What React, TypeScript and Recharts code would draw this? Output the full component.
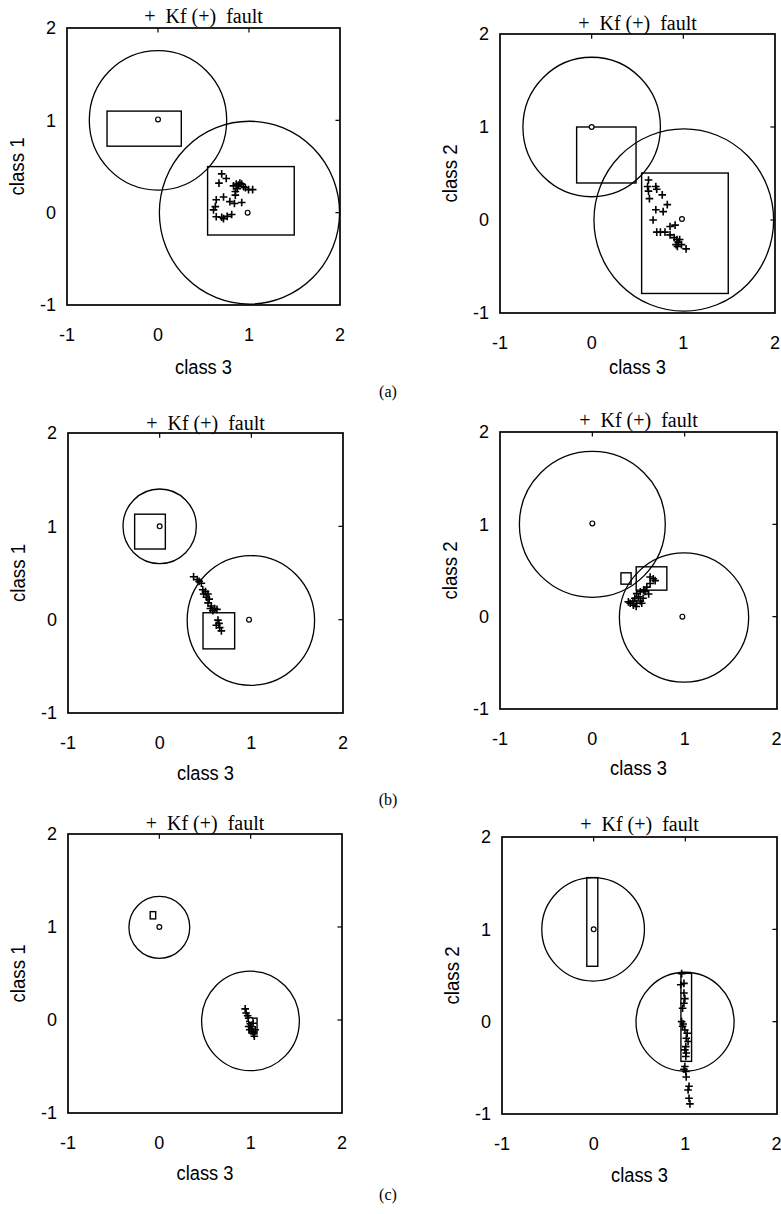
import React from 'react';
import { ScatterChart, Scatter, XAxis, YAxis, ReferenceArea, ReferenceLine, Label } from 'recharts';

type Pt = { x: number; y: number };
type Circ = { cx: number; cy: number; r: number };
type Box = { x1: number; x2: number; y1: number; y2: number };

const axisTicks = [-1, 0, 1, 2];
const innerTicks = [0, 1];
const axisDomain: [number, number] = [-1, 2];
const tickLen = 0.05;
const titleText = '+  Kf (+)  fault';
const xLabelText = 'class 3';
const figLabels = ['(a)', '(b)', '(c)'];

const P = (arr: number[][]): Pt[] => arr.map(([x, y]) => ({ x, y }));

// ---------- (a) left: class 1 vs class 3 ----------
const aLeftCircles: Circ[] = [
  { cx: 0, cy: 1, r: 0.755 },
  { cx: 1.005, cy: 0, r: 0.99 },
];
const aLeftRects: Box[] = [
  { x1: -0.56, x2: 0.256, y1: 0.72, y2: 1.1 },
  { x1: 0.545, x2: 1.497, y1: -0.242, y2: 0.499 },
];
const aLeftCenters: Pt[] = P([[0, 1.01], [0.985, 0]]);
const aLeftPlus: Pt[] = P([
  [0.70, 0.42], [0.75, 0.37], [0.67, 0.32], [0.83, 0.29], [0.86, 0.31], [0.885, 0.30],
  [0.90, 0.32], [0.92, 0.31], [0.94, 0.28], [0.96, 0.27], [0.995, 0.25], [1.04, 0.25],
  [0.85, 0.23], [0.85, 0.19], [0.72, 0.17], [0.64, 0.14], [0.79, 0.12], [0.84, 0.10],
  [0.92, 0.11], [0.63, 0.065], [0.61, 0.03], [0.64, -0.045], [0.70, -0.05], [0.72, -0.065],
  [0.76, -0.04], [0.81, -0.02], [0.87, 0.26],
]);

// ---------- (a) right: class 2 vs class 3 ----------
const aRightCircles: Circ[] = [
  { cx: 0, cy: 1, r: 0.75 },
  { cx: 1.005, cy: 0, r: 0.98 },
];
const aRightRects: Box[] = [
  { x1: -0.164, x2: 0.484, y1: 0.398, y2: 1.0 },
  { x1: 0.545, x2: 1.49, y1: -0.79, y2: 0.505 },
];
const aRightCenters: Pt[] = P([[0, 1], [0.985, 0.01]]);
const aRightPlus: Pt[] = P([
  [0.62, 0.43], [0.61, 0.36], [0.62, 0.31], [0.63, 0.23], [0.70, 0.36], [0.71, 0.33],
  [0.77, 0.27], [0.70, 0.11], [0.78, 0.09], [0.825, 0.165], [0.67, 0.0], [0.71, -0.13],
  [0.75, -0.13], [0.80, -0.13], [0.855, -0.07], [0.91, -0.055], [0.855, -0.16], [0.90, -0.19],
  [0.93, -0.21], [0.945, -0.24], [0.96, -0.21], [0.92, -0.265], [0.98, -0.265], [1.03, -0.31],
  [0.935, -0.285],
]);

// ---------- (b) left ----------
const bLeftCircles: Circ[] = [
  { cx: 0, cy: 1, r: 0.4 },
  { cx: 0.995, cy: -0.008, r: 0.695 },
];
const bLeftRects: Box[] = [
  { x1: -0.273, x2: 0.062, y1: 0.757, y2: 1.13 },
  { x1: 0.473, x2: 0.818, y1: -0.313, y2: 0.074 },
];
const bLeftCenters: Pt[] = P([[0, 1], [0.975, 0]]);
const bLeftPlus: Pt[] = P([
  [0.37, 0.46], [0.41, 0.43], [0.43, 0.41], [0.455, 0.39], [0.47, 0.32], [0.50, 0.30],
  [0.48, 0.275], [0.527, 0.275], [0.51, 0.24], [0.54, 0.22], [0.527, 0.18], [0.564, 0.146],
  [0.553, 0.12], [0.60, 0.12], [0.625, 0.11], [0.58, 0.095], [0.636, -0.005], [0.618, -0.06],
  [0.655, -0.085], [0.673, -0.12], [0.647, -0.04],
]);

// ---------- (b) right ----------
const bRightCircles: Circ[] = [
  { cx: 0, cy: 1, r: 0.79 },
  { cx: 0.993, cy: -0.01, r: 0.7 },
];
const bRightRects: Box[] = [
  { x1: 0.31, x2: 0.42, y1: 0.352, y2: 0.475 },
  { x1: 0.475, x2: 0.807, y1: 0.287, y2: 0.54 },
];
const bRightCenters: Pt[] = P([[0, 1.01], [0.975, 0]]);
const bRightPlus: Pt[] = P([
  [0.626, 0.43], [0.66, 0.41], [0.68, 0.39], [0.626, 0.36], [0.59, 0.32], [0.555, 0.287],
  [0.52, 0.27], [0.48, 0.25], [0.57, 0.27], [0.61, 0.245], [0.50, 0.215], [0.46, 0.20],
  [0.44, 0.17], [0.39, 0.16], [0.41, 0.145], [0.48, 0.145], [0.52, 0.17], [0.535, 0.145],
  [0.475, 0.11], [0.445, 0.125], [0.55, 0.20],
]);

// ---------- (c) left ----------
const cLeftCircles: Circ[] = [
  { cx: 0, cy: 0.996, r: 0.333 },
  { cx: 0.998, cy: -0.01, r: 0.535 },
];
const cLeftRects: Box[] = [
  { x1: -0.1, x2: -0.04, y1: 1.087, y2: 1.165 },
  { x1: 0.98, x2: 1.07, y1: -0.14, y2: 0.02 },
];
const cLeftCenters: Pt[] = P([[0, 1], [1, 0]]);
const cLeftPlus: Pt[] = P([
  [0.94, 0.12], [0.95, 0.075], [0.967, 0.045], [0.978, 0.02], [0.99, -0.015], [0.996, -0.04],
  [1.004, -0.07], [1.015, -0.1], [1.026, -0.125], [1.033, -0.15], [1.04, -0.175], [0.99, -0.105],
  [0.978, -0.07], [1.026, -0.035], [1.05, -0.105],
]);

// ---------- (c) right ----------
const cRightCircles: Circ[] = [
  { cx: -0.006, cy: 1, r: 0.56 },
  { cx: 0.997, cy: 0, r: 0.535 },
];
const cRightRects: Box[] = [
  { x1: -0.075, x2: 0.045, y1: 0.6, y2: 1.56 },
  { x1: 0.952, x2: 1.068, y1: -0.43, y2: 0.524 },
];
const cRightCenters: Pt[] = P([[0, 1]]);
const cRightPlus: Pt[] = P([
  [0.96, 0.52], [0.95, 0.40], [0.985, 0.415], [0.985, 0.31], [0.995, 0.25], [0.985, 0.20],
  [0.97, 0.145], [0.96, 0.0], [0.977, -0.025], [0.97, -0.05], [0.995, -0.09], [1.02, -0.125],
  [1.01, -0.18], [1.03, -0.215], [1.005, -0.27], [0.995, -0.305], [1.01, -0.34], [1.005, -0.377],
  [0.995, -0.485], [0.985, -0.515], [1.005, -0.54], [1.01, -0.60], [1.04, -0.70], [1.03, -0.74],
  [1.04, -0.83], [1.05, -0.89],
]);

const tickFont = 'Liberation Sans, Arial, sans-serif';
const labelFont = '"Liberation Sans Narrow", "Liberation Sans", Arial, sans-serif';
const serifFont = '"Liberation Serif", "Times New Roman", serif';

const PlusMark = (props: any) => {
  const { cx, cy } = props;
  if (cx == null || cy == null) return null;
  const s = 3.8;
  return (
    <path
      d={`M${cx - s},${cy}H${cx + s}M${cx},${cy - s}V${cy + s}`}
      stroke="#000"
      strokeWidth={1.6}
      fill="none"
    />
  );
};

const CenterMark = (props: any) => {
  const { cx, cy } = props;
  if (cx == null || cy == null) return null;
  return <circle cx={cx} cy={cy} r={2.4} stroke="#000" strokeWidth={1.2} fill="#fff" />;
};

const EllipseShape = (props: any) => {
  const { x, y, width, height } = props;
  if (x == null || y == null) return null;
  return (
    <ellipse
      cx={x + width / 2}
      cy={y + height / 2}
      rx={Math.abs(width) / 2}
      ry={Math.abs(height) / 2}
      fill="none"
      stroke="#000"
      strokeWidth={1.3}
    />
  );
};

const RectShape = (props: any) => {
  const { x, y, width, height } = props;
  if (x == null || y == null) return null;
  return <rect x={x} y={y} width={width} height={height} fill="none" stroke="#000" strokeWidth={1.4} />;
};

const FrameShape = (props: any) => {
  const { x, y, width, height } = props;
  if (x == null || y == null) return null;
  return <rect x={x} y={y} width={width} height={height} fill="none" stroke="#000" strokeWidth={1.7} />;
};

type PanelProps = {
  L: number; T: number; R: number; B: number;
  ylabel: string;
  xlabOff: number;
  titleOff: number;
  circles: Circ[];
  rects: Box[];
  centers: Pt[];
  pluses: Pt[];
};

function Panel({ L, T, R, B, ylabel, xlabOff, titleOff, circles, rects, centers, pluses }: PanelProps) {
  const padL = 70;
  const padT = 30;
  const padB = 80;
  const padR = Math.min(20, 781 - R);
  const w = R - L + padL + padR;
  const h = B - T + padT + padB;
  const lo = axisDomain[0];
  const hi = axisDomain[1];
  return (
    <div style={{ position: 'absolute', left: L - padL, top: T - padT, width: w, height: h }}>
      <div
        style={{
          position: 'absolute',
          left: padL - 20,
          width: R - L + 40,
          top: padT - titleOff - 12,
          height: 24,
          lineHeight: '24px',
          textAlign: 'center',
          fontFamily: serifFont,
          fontSize: 20,
          whiteSpace: 'pre',
          color: '#000',
          zIndex: 2,
        }}
      >
        {titleText}
      </div>
      <ScatterChart width={w} height={h} margin={{ top: padT, right: padR, bottom: 0, left: 0 }}>
        <XAxis
          dataKey="x"
          type="number"
          domain={axisDomain}
          ticks={axisTicks}
          allowDataOverflow
          height={padB}
          stroke="#000"
          axisLine={false}
          tickLine={false}
          tickMargin={17}
          tick={{ fill: '#000', fontSize: 18, fontFamily: tickFont }}
        >
          <Label
            content={(p: any) => {
              const vb = p.viewBox || {};
              return (
                <text
                  x={vb.x + vb.width / 2}
                  y={vb.y + xlabOff}
                  textAnchor="middle"
                  dominantBaseline="central"
                  fontSize={20}
                  fontFamily={labelFont}
                  textLength={57}
                  lengthAdjust="spacingAndGlyphs"
                  fill="#000"
                >
                  {xLabelText}
                </text>
              );
            }}
          />
        </XAxis>
        <YAxis
          dataKey="y"
          type="number"
          domain={axisDomain}
          ticks={axisTicks}
          allowDataOverflow
          width={padL}
          stroke="#000"
          axisLine={false}
          tickLine={false}
          tickMargin={5}
          tick={{ fill: '#000', fontSize: 18, fontFamily: tickFont }}
        >
          <Label
            content={(p: any) => {
              const vb = p.viewBox || {};
              const cx = vb.x + vb.width - 50;
              const cy = vb.y + vb.height / 2;
              return (
                <text
                  x={cx}
                  y={cy}
                  transform={`rotate(-90 ${cx} ${cy})`}
                  textAnchor="middle"
                  dominantBaseline="central"
                  fontSize={20}
                  fontFamily={labelFont}
                  textLength={58}
                  lengthAdjust="spacingAndGlyphs"
                  fill="#000"
                >
                  {ylabel}
                </text>
              );
            }}
          />
        </YAxis>
        <ReferenceArea x1={lo} x2={hi} y1={lo} y2={hi} ifOverflow="visible" shape={FrameShape} />
        {innerTicks.map((t) => (
          <ReferenceLine
            key={`tt${t}`}
            segment={[{ x: t, y: hi }, { x: t, y: hi - tickLen }]}
            stroke="#000"
            strokeWidth={1.2}
            ifOverflow="visible"
          />
        ))}
        {innerTicks.map((t) => (
          <ReferenceLine
            key={`tr${t}`}
            segment={[{ x: hi, y: t }, { x: hi - tickLen, y: t }]}
            stroke="#000"
            strokeWidth={1.2}
            ifOverflow="visible"
          />
        ))}
        {circles.map((c, i) => (
          <ReferenceArea
            key={`c${i}`}
            x1={c.cx - c.r}
            x2={c.cx + c.r}
            y1={c.cy - c.r}
            y2={c.cy + c.r}
            ifOverflow="visible"
            shape={EllipseShape}
          />
        ))}
        {rects.map((r, i) => (
          <ReferenceArea
            key={`r${i}`}
            x1={r.x1}
            x2={r.x2}
            y1={r.y1}
            y2={r.y2}
            ifOverflow="visible"
            shape={RectShape}
          />
        ))}
        <Scatter data={pluses} shape={PlusMark} isAnimationActive={false} />
        <Scatter data={centers} shape={CenterMark} isAnimationActive={false} />
      </ScatterChart>
    </div>
  );
}

export default function App() {
  const figLabelStyle = (top: number): React.CSSProperties => ({
    position: 'absolute',
    left: 370,
    width: 36,
    top: top - 10,
    textAlign: 'center',
    fontFamily: serifFont,
    fontSize: 16,
    lineHeight: '20px',
    color: '#000',
  });
  return (
    <div
      style={{
        position: 'absolute',
        left: 0,
        top: 0,
        width: 781,
        height: 1214,
        overflow: 'hidden',
        background: '#fff',
      }}
    >
      <Panel L={67} T={28} R={340} B={305} ylabel="class 1" xlabOff={62} titleOff={12}
        circles={aLeftCircles} rects={aLeftRects} centers={aLeftCenters} pluses={aLeftPlus} />
      <Panel L={500} T={34} R={775} B={313} ylabel="class 2" xlabOff={54} titleOff={11}
        circles={aRightCircles} rects={aRightRects} centers={aRightCenters} pluses={aRightPlus} />
      <Panel L={68} T={433} R={343} B={713} ylabel="class 1" xlabOff={60} titleOff={10}
        circles={bLeftCircles} rects={bLeftRects} centers={bLeftCenters} pluses={bLeftPlus} />
      <Panel L={500} T={432} R={777} B={709} ylabel="class 2" xlabOff={59} titleOff={12}
        circles={bRightCircles} rects={bRightRects} centers={bRightCenters} pluses={bRightPlus} />
      <Panel L={68} T={834} R={342} B={1113} ylabel="class 1" xlabOff={60} titleOff={11}
        circles={cLeftCircles} rects={cLeftRects} centers={cLeftCenters} pluses={cLeftPlus} />
      <Panel L={502} T={837} R={777} B={1114} ylabel="class 2" xlabOff={61} titleOff={13}
        circles={cRightCircles} rects={cRightRects} centers={cRightCenters} pluses={cRightPlus} />
      <div style={figLabelStyle(392)}>{figLabels[0]}</div>
      <div style={figLabelStyle(800)}>{figLabels[1]}</div>
      <div style={figLabelStyle(1195)}>{figLabels[2]}</div>
    </div>
  );
}
